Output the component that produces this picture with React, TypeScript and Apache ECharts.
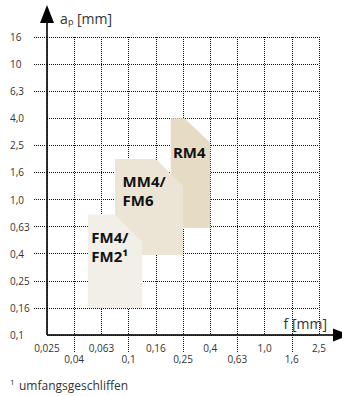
import React, { useEffect, useRef } from "react";
import * as echarts from "echarts";

// Axis tick labels (log-like nominal series, equally spaced)
const fLabels = ["0,025", "0,04", "0,063", "0,1", "0,16", "0,25", "0,4", "0,63", "1,0", "1,6", "2,5"];
const apLabels = ["0,1", "0,16", "0,25", "0,4", "0,63", "1,0", "1,6", "2,5", "4,0", "6,3", "10", "16"];

// Application regions in axis-step units (index along the nominal series)
const regionNames = ["RM4", "MM4/\nFM6", "FM4/\nFM2¹"];
const regionFMin = [4.55, 2.5, 1.5];
const regionFMax = [6.0, 5.0, 3.5];
const regionApMin = [3.95, 2.95, 1.0];
const regionApMax = [8.0, 6.5, 4.45];
const regionCutF = [5.05, 4.0, 2.5];
const regionCutAp = [7.1, 5.5, 3.45];
const labelF = [4.63, 2.78, 1.63];
const labelAp = [6.75, 5.33, 3.25];

const regionColors = ["#e6dcc6", "#ece5d5", "#f2eee8"];

const GRID_LEFT = 47;
const GRID_TOP = 37;
const GRID_RIGHT = 23;
const GRID_BOTTOM = 61;
const W = 342;
const H = 396;

export default function App() {
  const ref = useRef<HTMLDivElement>(null);
  useEffect(() => {
    if (!ref.current) return;
    const chart = echarts.init(ref.current, undefined, { renderer: "svg" });
    const data = regionNames.map((n, i) => [
      regionFMin[i], regionFMax[i], regionApMin[i], regionApMax[i],
      regionCutF[i], regionCutAp[i], labelF[i], labelAp[i], i,
    ]);
    const axisX = GRID_LEFT;
    const axisY = H - GRID_BOTTOM;
    const font = '"Open Sans", sans-serif';
    const gridLine = { type: "dotted", color: "#111", width: 1 };
    chart.setOption({
      animation: false,
      grid: { left: GRID_LEFT, top: GRID_TOP, right: GRID_RIGHT, bottom: GRID_BOTTOM },
      xAxis: [
        {
          type: "value", min: 0, max: 10, interval: 1, position: "bottom",
          axisLine: { show: false }, axisTick: { show: false }, axisLabel: { show: false },
          splitLine: { show: true, lineStyle: gridLine },
        },
        {
          type: "category", data: fLabels, boundaryGap: false, position: "bottom",
          axisLine: { show: false },
          axisTick: { show: true, interval: (i: number) => i % 2 === 1, length: 17, lineStyle: gridLine },
          axisLabel: {
            interval: 0, margin: 7, fontSize: 10, lineHeight: 11, color: "#333", fontFamily: font,
            formatter: (v: string, i: number) => (i % 2 === 1 ? "\n" + v : v),
          },
          splitLine: { show: false },
        },
      ],
      yAxis: [
        {
          type: "value", min: 0, max: 11, interval: 1, position: "left",
          axisLine: { show: false }, axisTick: { show: false }, axisLabel: { show: false },
          splitLine: { show: true, lineStyle: gridLine },
        },
        {
          type: "category", data: apLabels, boundaryGap: false, position: "left",
          axisLine: { show: false },
          axisTick: { show: true, interval: (i: number) => i !== 0 && i !== 8, length: 14, lineStyle: gridLine },
          axisLabel: { interval: 0, margin: 37, align: "left", fontSize: 10, color: "#333", fontFamily: font },
          splitLine: { show: false },
        },
      ],
      series: [
        {
          type: "custom",
          xAxisIndex: 0,
          yAxisIndex: 0,
          data,
          clip: false,
          renderItem: (params: any, api: any) => {
            const x0 = api.value(0), x1 = api.value(1), y0 = api.value(2), y1 = api.value(3);
            const cx = api.value(4), cy = api.value(5), lx = api.value(6), ly = api.value(7);
            const idx = api.value(8);
            const pts = [
              api.coord([x0, y0]), api.coord([x0, y1]), api.coord([cx, y1]),
              api.coord([x1, cy]), api.coord([x1, y0]),
            ];
            const lp = api.coord([lx, ly]);
            return {
              type: "group",
              children: [
                { type: "polygon", shape: { points: pts }, style: { fill: regionColors[idx], stroke: null } },
                {
                  type: "text", x: lp[0], y: lp[1],
                  style: {
                    text: regionNames[idx], fill: "#111", font: `bold 15px ${font}`,
                    verticalAlign: "middle", align: "left", lineHeight: 19,
                  },
                },
              ],
            };
          },
        },
      ],
      graphic: [
        { type: "line", shape: { x1: axisX, y1: axisY, x2: axisX, y2: 18 }, style: { stroke: "#333", lineWidth: 2 } },
        { type: "polygon", shape: { points: [[axisX, 5], [axisX - 7, 23], [axisX + 7, 23]] }, style: { fill: "#000" } },
        { type: "line", shape: { x1: axisX, y1: axisY, x2: 336, y2: axisY }, style: { stroke: "#333", lineWidth: 2 } },
        { type: "polygon", shape: { points: [[333, axisY - 6.5], [333, axisY + 6.5], [350, axisY]] }, style: { fill: "#000" } },
        { type: "text", x: 60, y: 18, style: { text: "a", font: `14px ${font}`, fill: "#333", verticalAlign: "middle" } },
        { type: "text", x: 68, y: 21, style: { text: "p", font: `9px ${font}`, fill: "#333", verticalAlign: "middle" } },
        { type: "text", x: 77, y: 18, style: { text: "[mm]", font: `14px ${font}`, fill: "#333", verticalAlign: "middle" } },
        {
          type: "text", x: 327, y: 323,
          style: { text: "f [mm]", font: `14px ${font}`, fill: "#333", align: "right", verticalAlign: "middle" },
        },
        { type: "text", x: 10, y: 381, style: { text: "1", font: `8px ${font}`, fill: "#333", verticalAlign: "middle" } },
        { type: "text", x: 19, y: 385, style: { text: "umfangsgeschliffen", font: `12px ${font}`, fill: "#333", verticalAlign: "middle" } },
      ],
    });
    return () => chart.dispose();
  }, []);
  return <div ref={ref} style={{ width: W, height: H, position: "absolute", left: 0, top: 0 }} />;
}
